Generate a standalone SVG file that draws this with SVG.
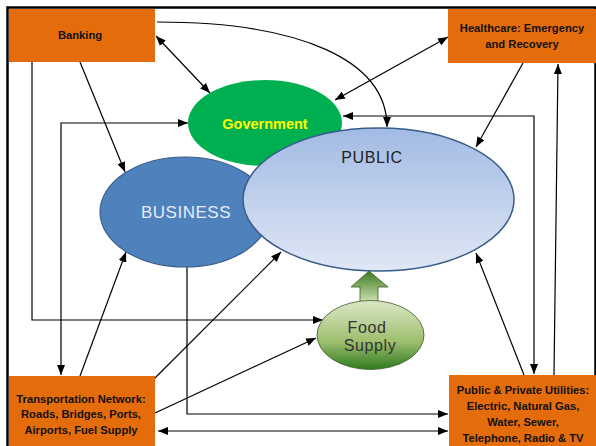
<svg xmlns="http://www.w3.org/2000/svg" width="596" height="446" viewBox="0 0 596 446">
<style>
.box{fill:#E46C0A}
.bt{font-family:"Liberation Sans",Arial,sans-serif;font-weight:bold;font-size:11.2px;fill:#111;text-anchor:middle}
.c{fill:none;stroke:#000;stroke-width:1.2}
.e{marker-end:url(#ah)}
.s{marker-start:url(#ah)}
</style>
<defs>
<marker id="ah" viewBox="0 0 10 8" refX="10" refY="4" markerWidth="10" markerHeight="8" markerUnits="userSpaceOnUse" orient="auto-start-reverse">
<path d="M0,0 L10,4 L0,8 z" fill="#000"/>
</marker>
<linearGradient id="gPub" x1="0" y1="0" x2="0" y2="1">
<stop offset="0" stop-color="#A2BAE4"/>
<stop offset="1" stop-color="#E0E7F5"/>
</linearGradient>
<linearGradient id="gFood" x1="0" y1="0" x2="0" y2="1">
<stop offset="0" stop-color="#DCE8C6"/>
<stop offset="0.6" stop-color="#9DBE6E"/>
<stop offset="1" stop-color="#2E7A1E"/>
</linearGradient>
<linearGradient id="gArr" x1="0" y1="0" x2="0" y2="1">
<stop offset="0" stop-color="#3B7A1E"/>
<stop offset="1" stop-color="#CFE0B0"/>
</linearGradient>
</defs>
<rect x="0" y="0" width="596" height="446" fill="#fff"/>
<rect x="7.5" y="7.5" width="588" height="445" fill="none" stroke="#000" stroke-width="2.5"/>

<g id="connectors">
<path class="c e" d="M157,22 C300,22 387,60 387,127"/>
<path class="c s e" d="M156,36 L210,93"/>
<path class="c s e" d="M448,37 L335,100"/>
<path class="c e" d="M523,63 L476,147"/>
<path class="c s e" d="M343,116 L534,116 L534,374"/>
<path class="c e" d="M554,375 L558,64"/>
<path class="c e" d="M524,375 L476,253"/>
<path class="c e" d="M80,62 L125,172"/>
<path class="c e" d="M32,62 L32,320 L323,320"/>
<path class="c s e" d="M188,123 L61,123 L61,375"/>
<path class="c e" d="M80,376 L126,252"/>
<path class="c e" d="M155,378 L281,252"/>
<path class="c e" d="M155,413 L316,338"/>
<path class="c e" d="M187,267 L187,414 L448,414"/>
<path class="c s e" d="M158,431 L448,431"/>
</g>

<g id="government">
<ellipse cx="265" cy="123" rx="77" ry="43" fill="#00B050"/>
<text x="265" y="129" font-family="'Liberation Sans',Arial,sans-serif" font-weight="bold" font-size="14.5" fill="#FFFF00" text-anchor="middle">Government</text>
</g>

<g id="business">
<ellipse cx="185" cy="212" rx="85" ry="55" fill="#4F81BD" stroke="#385D8A" stroke-width="1.2"/>
<text x="186" y="218" font-family="'Liberation Sans',Arial,sans-serif" font-size="17" letter-spacing="0.5" fill="#E4ECF7" text-anchor="middle">BUSINESS</text>
</g>

<g id="public">
<ellipse cx="378.5" cy="199.5" rx="135.5" ry="71.5" fill="url(#gPub)" stroke="#385D8A" stroke-width="1.5"/>
<text x="372" y="163" font-family="'Liberation Sans',Arial,sans-serif" font-size="16" letter-spacing="0.6" fill="#222" text-anchor="middle">PUBLIC</text>
</g>

<g id="food-arrow">
<path d="M369,271 L388,287 L378,287 L378,302 L360,302 L360,287 L351,287 z" fill="url(#gArr)" stroke="#3A5A25" stroke-width="0.8"/>
</g>

<g id="food-supply">
<ellipse cx="370.5" cy="335" rx="53.5" ry="34.5" fill="url(#gFood)" stroke="#3D5A27" stroke-width="0.8"/>
<text font-family="'Liberation Sans',Arial,sans-serif" font-size="16" letter-spacing="0.6" fill="#333" text-anchor="middle"><tspan x="367" y="333">Food</tspan><tspan x="370" y="351">Supply</tspan></text>
</g>

<g id="banking">
<rect class="box" x="9" y="9" width="146" height="53"/>
<text class="bt" x="80" y="39">Banking</text>
</g>

<g id="healthcare">
<rect class="box" x="448" y="9" width="148" height="54"/>
<text class="bt"><tspan x="522" y="32">Healthcare: Emergency</tspan><tspan x="522" y="48">and Recovery</tspan></text>
</g>

<g id="transportation">
<rect class="box" x="9" y="376" width="146" height="70"/>
<text class="bt"><tspan x="81" y="403">Transportation Network:</tspan><tspan x="81" y="418">Roads, Bridges, Ports,</tspan><tspan x="81" y="434">Airports, Fuel Supply</tspan></text>
</g>

<g id="utilities">
<rect class="box" x="449" y="375" width="147" height="71"/>
<text class="bt"><tspan x="523" y="394">Public &amp; Private Utilities:</tspan><tspan x="523" y="410">Electric, Natural Gas,</tspan><tspan x="523" y="426">Water, Sewer,</tspan><tspan x="523" y="442">Telephone, Radio &amp; TV</tspan></text>
</g>
</svg>
